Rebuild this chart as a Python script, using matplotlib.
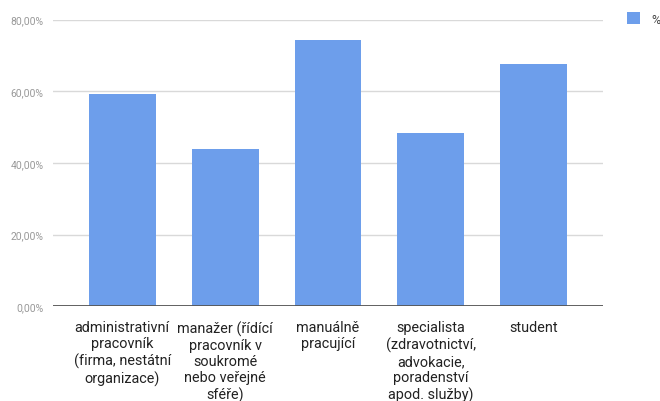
import matplotlib.pyplot as plt
from matplotlib.ticker import FuncFormatter

plt.rcParams['font.family'] = ['Roboto', 'DejaVu Sans']

# kategorie povolání a podíl odpovědí v %
kategorie = [
    'administrativní\npracovník\n(firma, nestátní\norganizace)',
    'manažer (řídící\npracovník v\nsoukromé\nnebo veřejné\nsféře)',
    'manuálně\npracující',
    'specialista\n(zdravotnictví,\nadvokacie,\nporadenství\napod. služby)',
    'student',
]
procenta = [59.26, 43.9, 74.3, 48.3, 67.5]

fig = plt.figure(figsize=(6.6, 4.02), dpi=100)
ax = fig.add_axes([53.3 / 660, (402 - 307.3) / 402, (602.7 - 53.3) / 660, (307.3 - 20.7) / 402])

x = range(len(kategorie))
ax.bar(x, procenta, width=0.65, color='#6d9eeb', zorder=3, label='%')

ax.set_ylim(0, 80)
ax.set_xlim(-0.67, 4.67)
ax.set_yticks([0, 20, 40, 60, 80])
ax.yaxis.set_major_formatter(FuncFormatter(lambda v, p: f'{v:.2f}'.replace('.', ',') + '%'))
ax.grid(axis='y', color='#d9d9d9', linewidth=1, zorder=0)
ax.axhline(0, color='#555555', linewidth=1.3, zorder=4)

for s in ax.spines.values():
    s.set_visible(False)
ax.tick_params(axis='y', length=0, pad=7, labelsize=7.5, labelcolor='#999999')
ax.tick_params(axis='x', length=0, pad=10)
ax.set_xticks(list(x))
ax.set_xticklabels(kategorie, fontsize=10.4, color='#222222', linespacing=1.2, va='top')

ax.legend(loc='center left', bbox_to_anchor=(627 / 660, 1 - 20 / 402), bbox_transform=fig.transFigure,
          frameon=False, fontsize=9, labelcolor='#444444', handlelength=1.05, handleheight=1.05,
          handletextpad=0.9, borderaxespad=0, borderpad=0)

fig.savefig('out.png', dpi=100)
